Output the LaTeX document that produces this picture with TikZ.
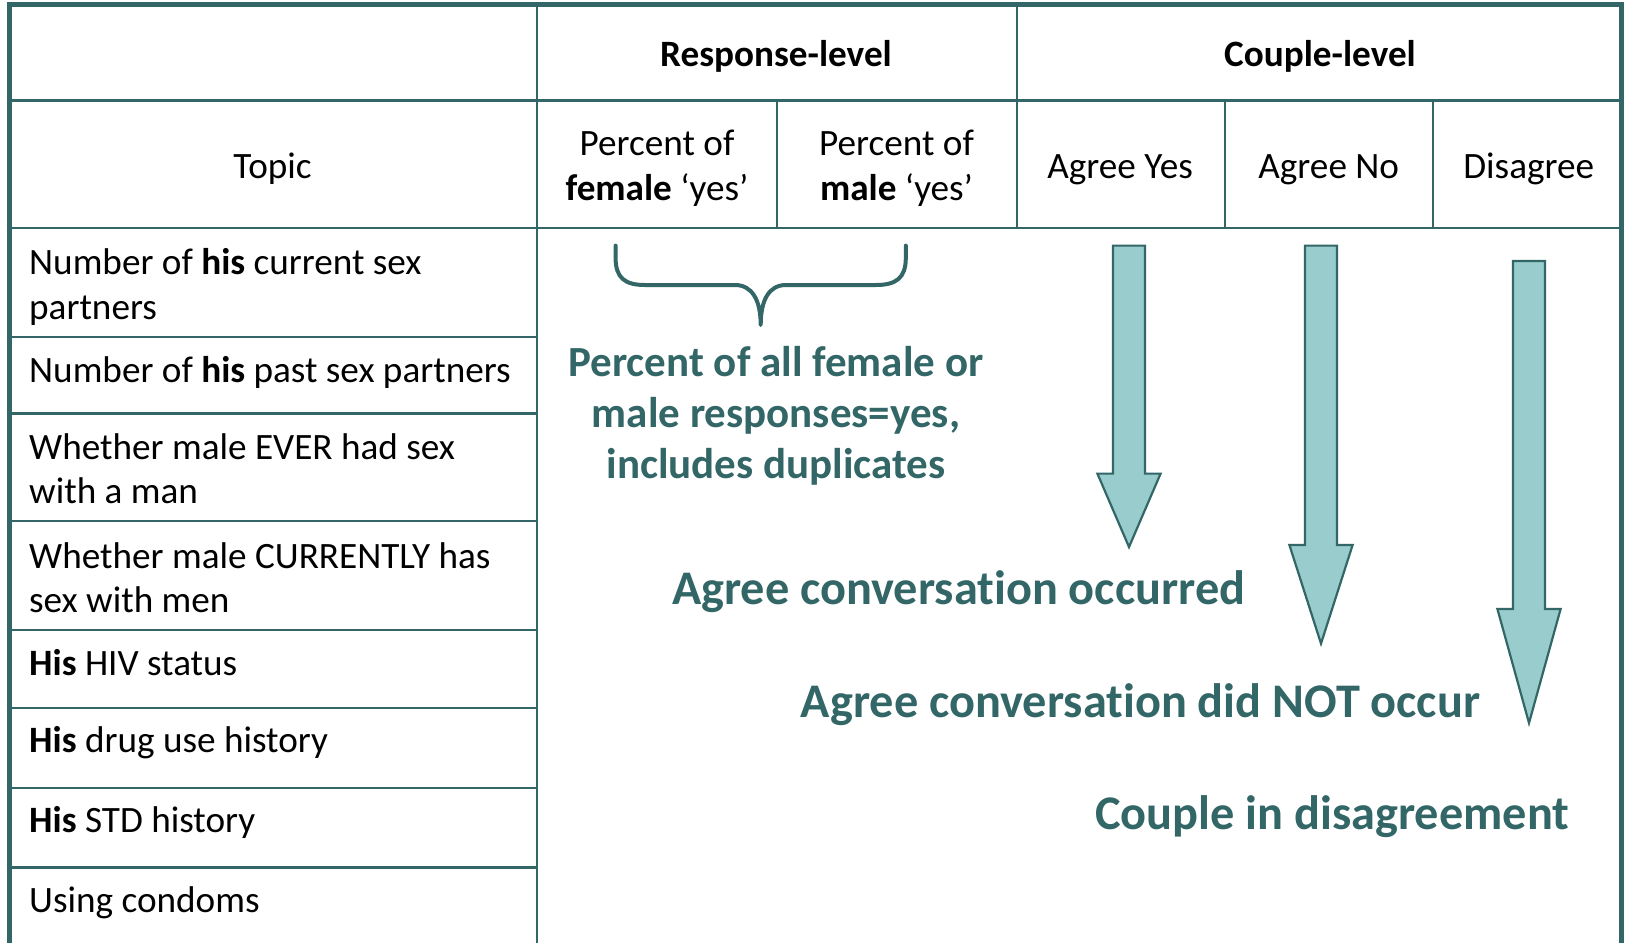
\documentclass[tikz,border=0pt]{standalone}
\usepackage{fontspec}
\setmainfont[Ligatures=CommonOff]{Carlito}
\definecolor{teal1}{RGB}{51,102,102}
\definecolor{tealfill}{RGB}{153,204,204}
\tikzset{
 body/.style={font=\fontsize{37.2}{44.6}\selectfont, inner sep=0pt},
 lbl/.style={body, anchor=base west},
 ctr/.style={body, anchor=base},
 ctrtwo/.style={body, align=center, anchor=center},
 hdr/.style={body, font=\fontsize{37.2}{44.6}\selectfont\bfseries, anchor=base},
 big/.style={font=\fontsize{48.3}{57}\selectfont\bfseries, text=teal1, anchor=base, inner sep=0pt},
 mid/.style={font=\fontsize{43}{50.8}\selectfont\bfseries, text=teal1, inner sep=0pt, align=center},
 gridline/.style={draw=teal1, line width=2.8pt},
 outerline/.style={draw=teal1, line width=5pt, line join=miter},
 fat/.style={fill=tealfill, draw=teal1, line width=2.2pt, line join=miter},
 bracestyle/.style={draw=teal1, line width=4pt, line cap=round, line join=round},
}
\newcommand\fatarrow[6]{% cx, halfshaft, halfhead, top, base, tip
  \path[fat] (#1-#2,#4) -- (#1+#2,#4) -- (#1+#2,#5) -- (#1+#3,#5) -- (#1,#6) -- (#1-#3,#5) -- (#1-#2,#5) -- cycle;}
\begin{document}
\begin{tikzpicture}[x=1pt,y=-1pt]
\useasboundingbox (0,0) rectangle (1625,943);
% grid lines
\draw[gridline] (9,100.5) -- (1621,100.5);
\draw[gridline] (9,228) -- (1621,228);
\foreach \yy in {337,413.5,521,630,708,788,867.5}
  \draw[gridline] (9,\yy) -- (537,\yy);
\draw[gridline] (537,4.5) -- (537,943);
\draw[gridline] (1017,4.5) -- (1017,228);
\foreach \xx in {777,1225,1433}
  \draw[gridline] (\xx,100.5) -- (\xx,228);
\draw[outerline] (9,943) -- (9,4.5) -- (1621,4.5) -- (1621,943);
% headers
\node[hdr] (resp) at (776,66) {Response-level};
\node[hdr] (coup) at (1320,66) {Couple-level};
\node[ctr] (topic) at (272.6,178.5) {Topic};
\node[ctrtwo] (pfem) at (657,168) {Percent of\\\textbf{female} ‘yes’};
\node[ctrtwo] (pmal) at (896.5,168) {Percent of\\\textbf{male} ‘yes’};
\node[ctr] (ayes) at (1120,178.5) {Agree Yes};
\node[ctr] (ano) at (1328.7,178.5) {Agree No};
\node[ctr] (dis) at (1528.7,178.5) {Disagree};
% topics
\node[lbl] (t1a) at (29,274.5) {Number of \textbf{his} current sex};
\node[lbl] (t1b) at (29,319.5) {partners};
\node[lbl] (t2) at (29,382.5) {Number of \textbf{his} past sex partners};
\node[lbl] (t3a) at (29,459.5) {Whether male EVER had sex};
\node[lbl] (t3b) at (29,503.5) {with a man};
\node[lbl] (t4a) at (29,568) {Whether male CURRENTLY has};
\node[lbl] (t4b) at (29,612.5) {sex with men};
\node[lbl] (t5) at (29,675.5) {\textbf{His} HIV status};
\node[lbl] (t6) at (29,752.5) {\textbf{His} drug use history};
\node[lbl] (t7) at (29,832.5) {\textbf{His} STD history};
\node[lbl] (t8) at (29,912) {Using condoms};
% brace
\draw[bracestyle] (615.6,245.6) -- (615.6,258) .. controls (615.6,278) and (625,285) .. (645,285)
  -- (735,285) .. controls (752,285) and (760.7,300) .. (760.7,325)
  .. controls (760.7,300) and (769,285) .. (786,285)
  -- (876,285) .. controls (896,285) and (905.8,278) .. (905.8,258) -- (905.8,245.6);
\node[mid] (pall) at (776,416) {Percent of all female or\\male responses=yes,\\includes duplicates};
% arrows
\fatarrow{1129}{16}{31.6}{245.6}{473.6}{547}
\fatarrow{1321}{16}{31.6}{245.6}{545}{643.6}
\fatarrow{1529}{16}{31.6}{261}{609}{723}
\node[big] (occ) at (958.7,604) {Agree conversation occurred};
\node[big] (nocc) at (1140.6,717) {Agree conversation did NOT occur};
\node[big] (cdis) at (1332.3,829) {Couple in disagreement};
\end{tikzpicture}
\end{document}
